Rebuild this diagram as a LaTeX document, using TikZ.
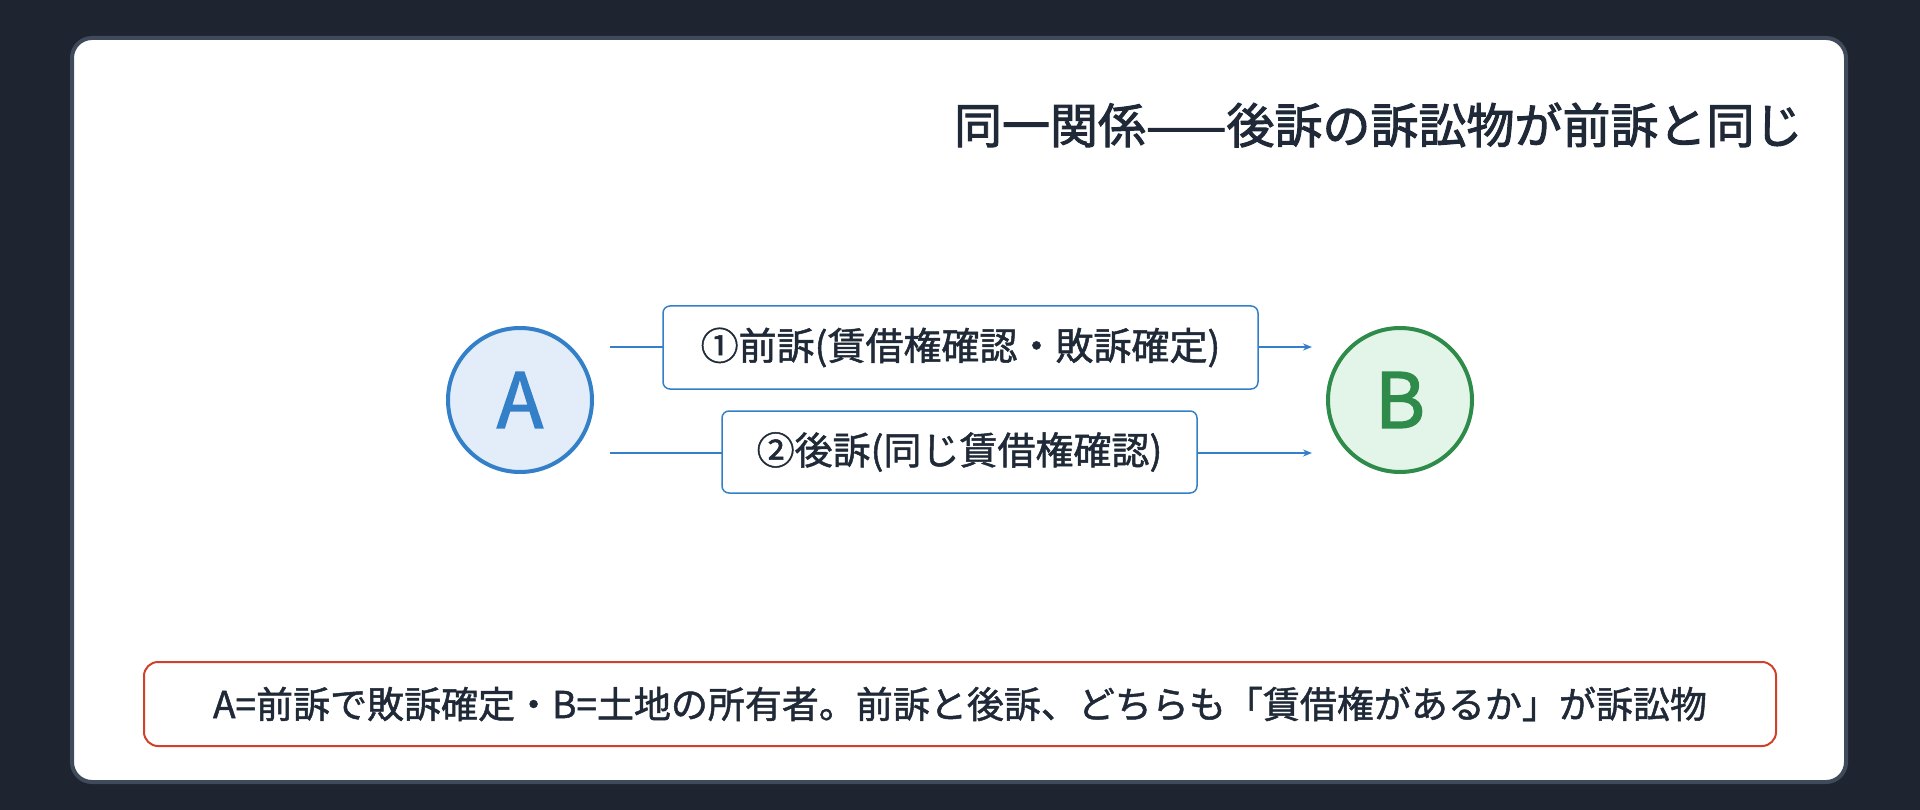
\documentclass[tikz,border=0pt]{standalone}
\usepackage{fontspec}
\setmainfont{Noto Sans CJK JP}
\newfontfamily\jpm{Noto Sans CJK JP}[FakeBold=1.3]
\newfontfamily\jpt{Noto Sans CJK JP}[FakeBold=2]
\usetikzlibrary{arrows.meta}
\definecolor{bgc}{HTML}{1E2530}
\definecolor{cardb}{HTML}{3F4A5A}
\definecolor{txt}{HTML}{1F2937}
\definecolor{blu}{HTML}{3380C8}
\definecolor{bluf}{HTML}{E3EDF9}
\definecolor{grn}{HTML}{2E8B4A}
\definecolor{grnf}{HTML}{E3F5E8}
\definecolor{redc}{HTML}{D0402A}
\tikzset{
 ent/.style={circle,line width=4pt,minimum size=144pt,inner sep=0pt,font=\jpt\fontsize{76}{76}\selectfont},
 lbl/.style={draw=blu,fill=white,rounded corners=7pt,line width=1.5pt,text=txt,font=\jpm\fontsize{38}{38}\selectfont,inner sep=0pt},
 arr/.style={draw=blu,line width=2.5pt,-{Stealth[length=9pt,width=7pt]}}
}
\begin{document}
\begin{tikzpicture}[x=1pt,y=-1pt]
\fill[bgc] (0,0) rectangle (1920,810);
\useasboundingbox (0,0) rectangle (1920,810);
\draw[cardb,fill=white,line width=4pt,rounded corners=20pt] (72,38) rectangle (1846,782);
\node[anchor=east,text=txt,font=\jpt\fontsize{48}{48}\selectfont] (title) at (1806,125) {同一関係——後訴の訴訟物が前訴と同じ};
\node[ent,draw=blu,fill=bluf,text=blu] (A) at (520,400) {A};
\node[ent,draw=grn,fill=grnf,text=grn] (B) at (1400,400) {B};
\coordinate (a1) at (610,347); \coordinate (b1) at (1312,347);
\coordinate (a2) at (610,453); \coordinate (b2) at (1312,453);
\draw[arr] (a1) -- (b1);
\draw[arr] (a2) -- (b2);
\node[lbl,minimum width=595pt,minimum height=83pt] (l1) at (960.5,347.5) {①前訴(賃借権確認・敗訴確定)};
\node[lbl,minimum width=475pt,minimum height=82pt] (l2) at (959.5,452) {②後訴(同じ賃借権確認)};
\node[draw=redc,fill=white,rounded corners=14pt,line width=2pt,minimum width=1632pt,minimum height=84pt,inner sep=0pt,text=txt,font=\jpm\fontsize{37}{37}\selectfont] (note) at (960,704) {A=前訴で敗訴確定・B=土地の所有者。前訴と後訴、どちらも「賃借権があるか」が訴訟物};
\end{tikzpicture}
\end{document}
